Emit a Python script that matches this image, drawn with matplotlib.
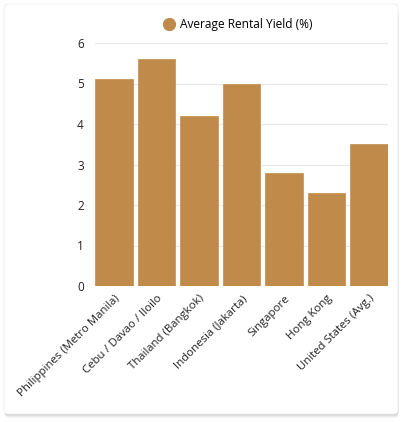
import matplotlib.pyplot as plt
from matplotlib.patches import FancyBboxPatch
from matplotlib.lines import Line2D

# data
countries = ["Philippines (Metro Manila)", "Cebu / Davao / Iloilo", "Thailand (Bangkok)",
             "Indonesia (Jakarta)", "Singapore", "Hong Kong", "United States (Avg.)"]
rental_yield = [5.1, 5.6, 4.2, 5.0, 2.8, 2.3, 3.5]
y_ticks = [0, 1, 2, 3, 4, 5, 6]

bar_color = "#BF8A4A"
plt.rcParams['font.family'] = ['Open Sans', 'DejaVu Sans']

fig = plt.figure(figsize=(4.03, 4.22), dpi=100)
fig.patch.set_facecolor("white")

# card with soft shadow
for i, a in enumerate([0.05, 0.05, 0.04, 0.03, 0.02]):
    off = (i + 1) * 0.9
    sh = FancyBboxPatch((4.5 / 403, 8 / 422 - off / 422), 394 / 403, 406 / 422,
                        boxstyle="round,pad=0,rounding_size=0.01",
                        transform=fig.transFigure, facecolor="black", edgecolor="none",
                        alpha=a, zorder=-3)
    fig.patches.append(sh)
card = FancyBboxPatch((4 / 403, 8 / 422), 394 / 403, 410 / 422,
                      boxstyle="round,pad=0,rounding_size=0.01",
                      transform=fig.transFigure, facecolor="white", edgecolor="#EEEEEE",
                      linewidth=0.6, zorder=-2)
fig.patches.append(card)

ax = fig.add_axes([95 / 403, (422 - 286) / 422, 293 / 403, 243 / 422])
ax.set_zorder(2)
ax.set_facecolor("none")
x = range(len(countries))
ax.bar(x, rental_yield, width=0.885, color=bar_color, edgecolor="#C7955A",
       linewidth=0.6, zorder=3)

ax.set_xlim(-0.45, len(countries) - 0.55)
ax.set_ylim(0, 6)
ax.set_yticks(y_ticks)
ax.set_yticklabels([str(t) for t in y_ticks], fontsize=8.5, color="#222222")
ax.yaxis.grid(True, color="#E8E8E8", linewidth=0.8, zorder=0)
ax.set_xticks(list(x))
ax.set_xticklabels(countries, rotation=45, ha="right", rotation_mode="anchor",
                   fontsize=8.2, color="#222222")
ax.tick_params(axis="y", length=0, pad=8)
ax.tick_params(axis="x", length=0, pad=5)
for s in ax.spines.values():
    s.set_visible(False)

handle = Line2D([], [], marker="o", linestyle="none", markersize=8.5,
                markerfacecolor=bar_color, markeredgecolor=bar_color)
ax.legend([handle], ["Average Rental Yield (%)"], loc="lower center",
          bbox_to_anchor=(0.49, 1.02), frameon=False, fontsize=8.6,
          handlelength=0.8, handletextpad=0.5, borderaxespad=0.2)

fig.savefig("out.png", dpi=100, facecolor="white")
